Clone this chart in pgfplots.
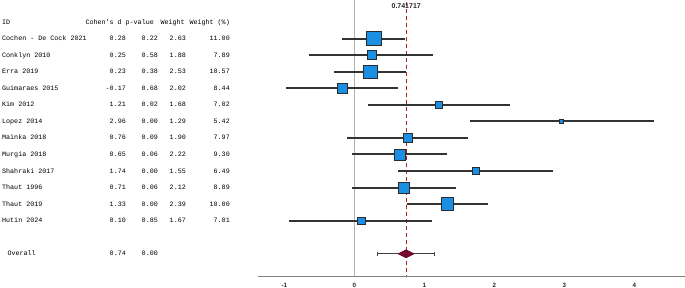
\documentclass[border=0pt]{standalone}
\usepackage{fontspec}
\setmainfont{Liberation Sans}
\setmonofont{Liberation Mono}
\usepackage{pgfplots}
\usepackage{pgfplotstable}
\pgfplotsset{compat=1.18}

\definecolor{sqblue}{HTML}{1A8FE3}
\definecolor{sqedge}{HTML}{2B2B2B}
\definecolor{refred}{HTML}{B22222}
\definecolor{diam}{HTML}{7A0A2E}

\pgfplotstableread{
r d lo hi s
1 0.28 -0.17 0.72 7.2
2 0.25 -0.64 1.13 4.5
3 0.23 -0.29 0.74 6.8
4 -0.17 -0.98 0.63 4.8
5 1.21 0.19 2.22 3.8
6 2.96 1.65 4.28 2.3
7 0.76 -0.11 1.63 4.4
8 0.65 -0.04 1.33 5.5
9 1.74 0.63 2.84 3.3
10 0.71 -0.03 1.45 5.3
11 1.33 0.75 1.91 6.3
12 0.10 -0.93 1.11 3.6
}\studies

\tikzset{txt/.style={font=\ttfamily\fontsize{6.7}{8}\selectfont, text=black, inner sep=0pt, text height=4pt, text depth=0pt}}
\newcommand{\trow}[6]{%
 \node[txt,anchor=west] at (axis cs:-5.033,-#1) {#2};
 \node[txt,anchor=east] at (axis cs:-3.261,-#1) {#3};
 \node[txt,anchor=east] at (axis cs:-2.804,-#1) {#4};
 \node[txt,anchor=east] at (axis cs:-2.404,-#1) {#5};
 \node[txt,anchor=east] at (axis cs:-1.776,-#1) {#6};}

\begin{document}
\begin{tikzpicture}
\begin{axis}[
  at={(258pt,12pt)}, anchor=south west,
  scale only axis, width=427pt, height=276pt,
  xmin=-1.3757, xmax=4.7243, ymin=-15.341, ymax=1.335,
  axis x line*=bottom, axis y line=none,
  x axis line style={draw=black!50, line width=0.9pt, -},
  xtick={-1,0,1,2,3,4}, xticklabels={-1,0,1,2,3,4},
  major tick length=0pt,
  xticklabel style={font=\bfseries\fontsize{6.2}{7}\selectfont, text=black!85, yshift=-3.5pt},
  clip=false,
]
% reference lines
\addplot[draw=black!30, line width=0.8pt] coordinates {(0,1.335) (0,-15.341)};
\addplot[draw=refred, line width=1pt, dash pattern=on 4pt off 3pt] coordinates {(0.741717,1.2) (0.741717,-15.341)};
% confidence intervals
\addplot[draw=none, mark=none,
  error bars/.cd, x dir=both, x explicit,
  error bar style={draw=black!80, line width=2.0pt, solid}, error mark=none]
  table[x=d, y expr=-\thisrow{r}, x error plus expr=\thisrow{hi}-\thisrow{d}, x error minus expr=\thisrow{d}-\thisrow{lo}] {\studies};
% squares
\addplot[scatter, only marks, mark=square*,
  scatter/use mapped color={draw=sqedge, fill=sqblue},
  visualization depends on={\thisrow{s}\as\ms},
  scatter/@pre marker code/.append style={/tikz/mark size=\ms},
  mark options={line width=0.7pt}]
  table[x=d, y expr=-\thisrow{r}] {\studies};
% overall
\addplot[draw=none, mark=none,
  error bars/.cd, x dir=both, x explicit,
  error bar style={draw=black!75, line width=1.2pt, solid},
  error mark=|, error mark options={mark size=2.2pt, draw=black!75, line width=1pt}]
  coordinates {(0.74,-14) += (0.40,0) -= (0.41,0)};
\addplot[fill=diam, draw=diam!70!black, line width=0.6pt]
  coordinates {(0.626,-14) (0.74,-13.758) (0.854,-14) (0.74,-14.242)} -- cycle;
\node[font=\bfseries\fontsize{7}{8}\selectfont, text=black!85, inner sep=0pt] at (axis cs:0.741717,0.985) {0.741717};
% table text
\node[txt,anchor=west] at (axis cs:-5.033,0) {ID};
\node[txt,anchor=east] at (axis cs:-3.319,0) {Cohen's d};
\node[txt,anchor=east] at (axis cs:-2.861,0) {p-value};
\node[txt,anchor=east] at (axis cs:-2.419,0) {Weight};
\node[txt,anchor=east] at (axis cs:-1.776,0) {Weight (\%)};
\trow{1}{Cochen - De Cock 2021}{0.28}{0.22}{2.63}{11.00}
\trow{2}{Conklyn 2010}{0.25}{0.58}{1.88}{7.89}
\trow{3}{Erra 2019}{0.23}{0.38}{2.53}{10.57}
\trow{4}{Guimaraes 2015}{-0.17}{0.68}{2.02}{8.44}
\trow{5}{Kim 2012}{1.21}{0.02}{1.68}{7.02}
\trow{6}{Lopez 2014}{2.96}{0.00}{1.29}{5.42}
\trow{7}{Mainka 2018}{0.76}{0.09}{1.90}{7.97}
\trow{8}{Murgia 2018}{0.65}{0.06}{2.22}{9.30}
\trow{9}{Shahraki 2017}{1.74}{0.00}{1.55}{6.49}
\trow{10}{Thaut 1996}{0.71}{0.06}{2.12}{8.89}
\trow{11}{Thaut 2019}{1.33}{0.00}{2.39}{10.00}
\trow{12}{Hutin 2024}{0.10}{0.85}{1.67}{7.01}
\node[txt,anchor=west] at (axis cs:-4.957,-14) {Overall};
\node[txt,anchor=east] at (axis cs:-3.261,-14) {0.74};
\node[txt,anchor=east] at (axis cs:-2.804,-14) {0.00};
\end{axis}
\pgfresetboundingbox
\path[use as bounding box] (0,0) rectangle (685pt,288pt);
\end{tikzpicture}
\end{document}
